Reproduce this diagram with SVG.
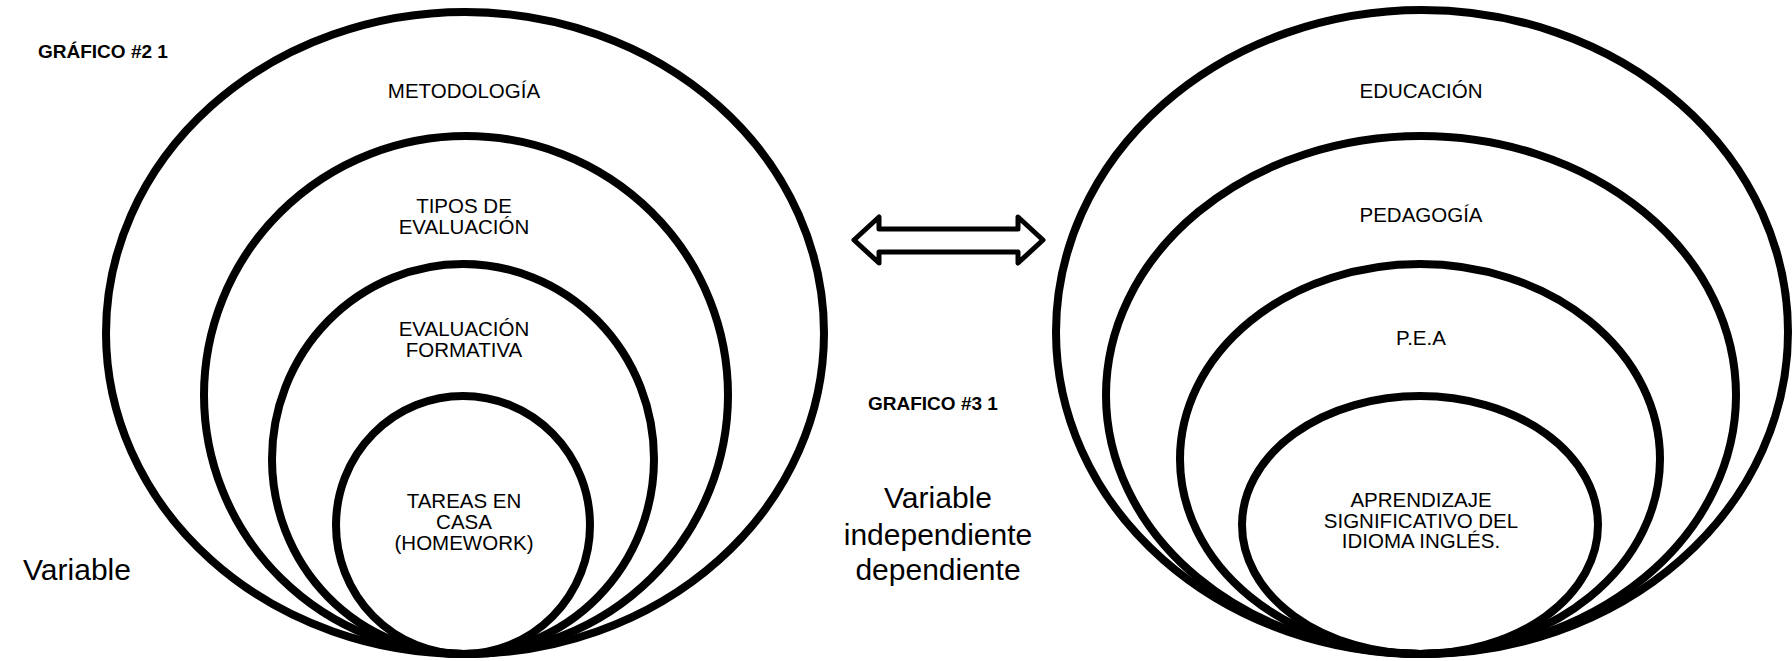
<svg xmlns="http://www.w3.org/2000/svg" width="1792" height="661" viewBox="0 0 1792 661">
<style>
.ring{fill:none;stroke:#000;stroke-width:8}
.lbl{font-family:"Liberation Sans",Arial,sans-serif;font-size:20.5px;fill:#000;text-anchor:middle}
.ttl{font-family:"Liberation Sans",Arial,sans-serif;font-size:19px;font-weight:bold;fill:#000}
.big{font-family:"Liberation Sans",Arial,sans-serif;font-size:30px;fill:#000;text-anchor:middle}
</style>
<rect width="1792" height="661" fill="#fff"/>
<g id="grafico2">
  <g id="metodologia"><ellipse class="ring" cx="465" cy="333" rx="359" ry="321"/><text class="lbl" x="464" y="98">METODOLOGÍA</text></g>
  <g id="tipos-evaluacion"><ellipse class="ring" cx="466" cy="395" rx="262" ry="259"/><text class="lbl" x="464" y="213">TIPOS DE</text><text class="lbl" x="464" y="234">EVALUACIÓN</text></g>
  <g id="evaluacion-formativa"><ellipse class="ring" cx="463" cy="459" rx="191" ry="195"/><text class="lbl" x="464" y="336">EVALUACIÓN</text><text class="lbl" x="464" y="357">FORMATIVA</text></g>
  <g id="tareas"><ellipse class="ring" cx="463" cy="525" rx="127" ry="129"/><text class="lbl" x="464" y="508">TAREAS EN</text><text class="lbl" x="464" y="529">CASA</text><text class="lbl" x="464" y="550">(HOMEWORK)</text></g>
</g>
<g id="grafico3">
  <g id="educacion"><ellipse class="ring" cx="1422" cy="332" rx="366" ry="322"/><text class="lbl" x="1421" y="98">EDUCACIÓN</text></g>
  <g id="pedagogia"><ellipse class="ring" cx="1421" cy="395" rx="315" ry="259"/><text class="lbl" x="1421" y="222">PEDAGOGÍA</text></g>
  <g id="pea"><ellipse class="ring" cx="1420" cy="459" rx="240" ry="195"/><text class="lbl" x="1421" y="345">P.E.A</text></g>
  <g id="aprendizaje"><ellipse class="ring" cx="1420" cy="525" rx="178" ry="129"/><text class="lbl" x="1421" y="507">APRENDIZAJE</text><text class="lbl" x="1421" y="528">SIGNIFICATIVO DEL</text><text class="lbl" x="1421" y="548">IDIOMA INGLÉS.</text></g>
</g>
<g id="connectors">
  <path d="M854,240 L879,217 L879,229 L1018,229 L1018,217 L1043,240 L1018,263 L1018,252 L879,252 L879,263 Z" fill="#fff" stroke="#000" stroke-width="5" stroke-linejoin="round"/>
</g>
<g id="labels">
  <text class="ttl" x="38" y="58">GRÁFICO #2 1</text>
  <text class="ttl" x="868" y="410">GRAFICO #3 1</text>
  <text class="big" x="938" y="508">Variable</text>
  <text class="big" x="938" y="545">independiente</text>
  <text class="big" x="938" y="580">dependiente</text>
  <text class="big" x="77" y="580">Variable</text>
</g>
</svg>
